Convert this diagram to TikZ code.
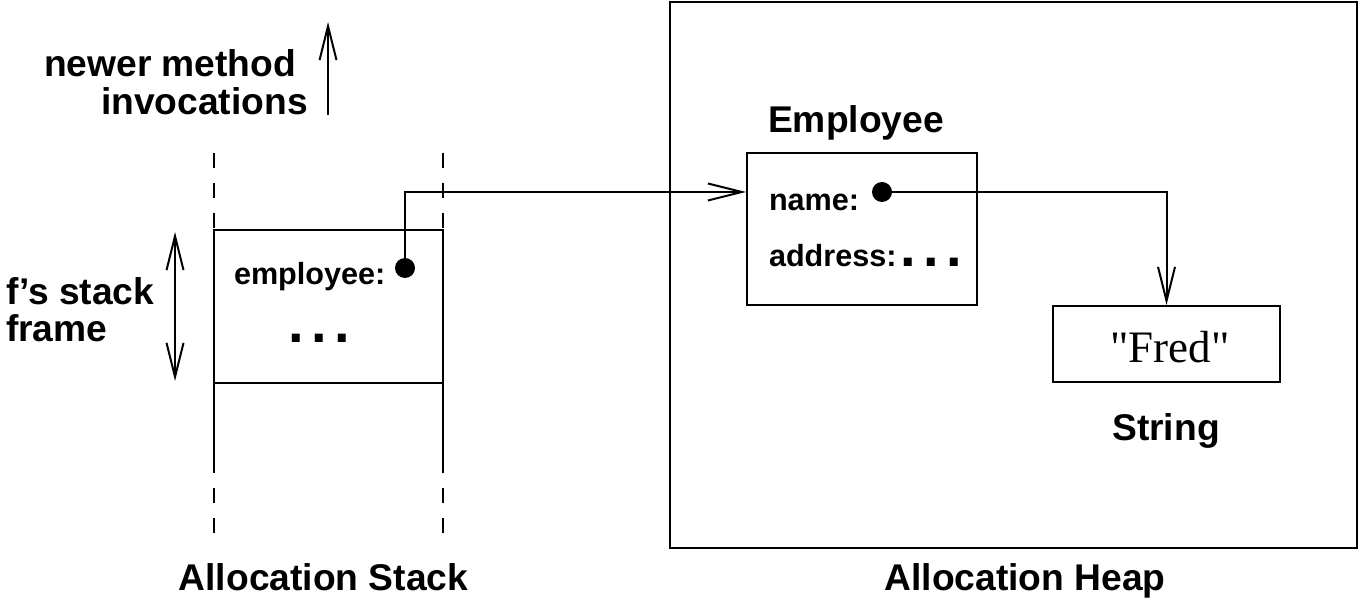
\documentclass[tikz,border=0pt]{standalone}
\usepackage{fontspec}
\setmainfont{Liberation Sans}
\newfontfamily\fredfont{Liberation Serif}
\usetikzlibrary{arrows.meta}
\newcommand{\bigdots}{{\fontsize{28}{30}\selectfont.\kern3.7pt.\kern3.7pt.}}
\begin{document}
\begin{tikzpicture}[x=0.5pt,y=-0.5pt,line width=1pt,
  barb/.style={-{Straight Barb[length=17pt,width=8.5pt]}},
  dbarb/.style={{Straight Barb[length=17pt,width=8.5pt]}-{Straight Barb[length=17pt,width=8.5pt]}},
  head/.style={inner sep=0pt,font=\fontsize{18.6}{22}\selectfont\bfseries},
  lbl/.style={inner sep=0pt,font=\fontsize{15.3}{18}\selectfont\bfseries},
  dots/.style={inner sep=0pt,font=\bfseries},
  ptr/.style={circle,fill=black,inner sep=0pt,minimum size=10pt},
  box/.style={draw,inner sep=0pt},
  dash15/.style={dash pattern=on 7.5pt off 7.5pt}]
\useasboundingbox (0,0) rectangle (1359,598);

% heap
\node[box,minimum width=343.5pt,minimum height=273pt] (heap) at (1013.5,275) {};
\node[head,anchor=base] (heaplbl) at (1025,590) {Allocation Heap};

% stack
\coordinate (sl1) at (214,153); \coordinate (sl2) at (214,230);
\coordinate (sl3) at (214,473); \coordinate (sl4) at (214,533);
\coordinate (sr1) at (443,153); \coordinate (sr2) at (443,230);
\coordinate (sr3) at (443,473); \coordinate (sr4) at (443,533);
\draw[dash15] (sl1) -- (sl2);
\draw[dash15] (sr1) -- (sr2);
\draw (sl2) -- (sl3);
\draw (sr2) -- (sr3);
\draw[dash15] (sl4) -- (sl3);
\draw[dash15] (sr4) -- (sr3);
\node[box,minimum width=114.5pt,minimum height=76.5pt] (frame) at (328.5,306.5) {};
\node[lbl,anchor=base west] (emplbl) at (233,285) {employee:};
\node[ptr] (empdot) at (405,268) {};
\node[dots,anchor=base] (fdots) at (319,343) {\bigdots};
\node[head,anchor=base] (stacklbl) at (323.5,590) {Allocation Stack};

% left labels
\node[head,anchor=base west] (newer1) at (43,77) {newer method};
\node[head,anchor=base west] (newer2) at (100,115) {invocations};
\coordinate (upA) at (328,115); \coordinate (upB) at (328,22);
\draw[barb] (upA) -- (upB);
\node[head,anchor=base west] (fs1) at (5,305) {f’s stack};
\node[head,anchor=base west] (fs2) at (5,342) {frame};
\coordinate (dA) at (175,232); \coordinate (dB) at (175,381);
\draw[dbarb] (dA) -- (dB);

% employee object
\node[head,anchor=base] (emptitle) at (856,133) {Employee};
\node[box,minimum width=115pt,minimum height=76pt] (empbox) at (862,229) {};
\node[lbl,anchor=base west] (namelbl) at (768,211) {name:};
\node[ptr] (namedot) at (882,192) {};
\node[lbl,anchor=base west] (addrlbl) at (768,267) {address:\hspace{2pt}\bigdots};

% string object
\node[box,minimum width=113.5pt,minimum height=38pt] (fred) at (1166.5,344) {};
\node[inner sep=0pt,anchor=base,font=\fontsize{22.5}{26}\fredfont] (fredtxt) at (1170,363) {"Fred"};
\node[head,anchor=base] (strlbl) at (1166,440) {String};

% pointers
\draw[barb] (empdot.center) |- (namedot -| empbox.west);
\draw[barb] (namedot.center) -| (fred.north);
\end{tikzpicture}
\end{document}
